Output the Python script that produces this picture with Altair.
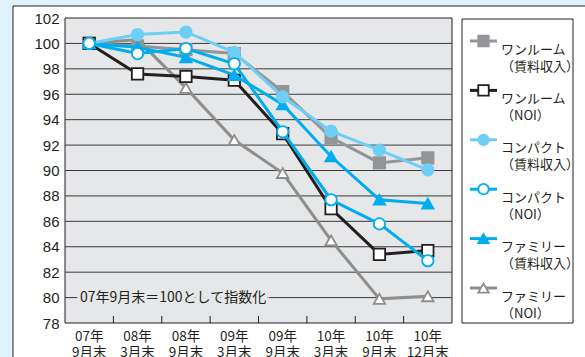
import altair as alt
import pandas as pd

# ---- data ----
categories = ["07年 9月末", "08年 3月末", "08年 9月末", "09年 3月末",
              "09年 9月末", "10年 3月末", "10年 9月末", "10年 12月末"]

series_names = ["ワンルーム|（賃料収入）", "ワンルーム|（NOI）",
                "コンパクト|（賃料収入）", "コンパクト|（NOI）",
                "ファミリー|（賃料収入）", "ファミリー|（NOI）"]

oneroom_rent = [100, 99.8, 99.5, 99.2, 96.2, 92.6, 90.6, 91.0]
oneroom_noi = [100, 97.6, 97.4, 97.1, 92.9, 87.0, 83.4, 83.7]
compact_rent = [100, 100.7, 100.9, 99.3, 95.8, 93.1, 91.6, 90.05]
compact_noi = [100, 99.2, 99.6, 98.4, 93.05, 87.7, 85.8, 82.9]
family_rent = [100, 99.7, 98.9, 97.5, 95.2, 91.1, 87.7, 87.4]
family_noi = [100, 100.3, 96.5, 92.4, 89.8, 84.5, 79.9, 80.1]

y_ticks = [78, 80, 82, 84, 86, 88, 90, 92, 94, 96, 98, 100, 102]
note_text = "07年9月末＝100として指数化"
note_value = 80

series_values = [oneroom_rent, oneroom_noi, compact_rent, compact_noi, family_rent, family_noi]
draw_order = [5, 0, 1, 4, 2, 3]

shapes = ["square", "square", "circle", "circle", "triangle-up", "triangle-up"]
strokes = ["#939598", "#231f20", "#6dcff6", "#00aeef", "#00aeef", "#8e8e8e"]
fills = ["#939598", "#ffffff", "#6dcff6", "#ffffff", "#00aeef", "#ffffff"]

rows = []
for s, vals in zip(series_names, series_values):
    for c, v in zip(categories, vals):
        rows.append({"cat": c, "series": s, "value": v})
df = pd.DataFrame(rows)

W, H = 387, 305
JP = "Noto Sans CJK JP"
DARK = "#231f20"
PLOT_BG = "#e6e7e8"

xs = alt.Scale(type="band", domain=categories, paddingInner=0, paddingOuter=0)
ys = alt.Scale(domain=[78, 102], nice=False, zero=False)
xaxis = alt.Axis(title=None, labelExpr="split(datum.value, ' ')", labelAngle=0,
                 ticks=False, domain=False, grid=False, labelPadding=6,
                 labelFont=JP, labelFontSize=13.5, labelLineHeight=16,
                 labelColor=DARK, zindex=1)
yaxis = alt.Axis(title=None, values=y_ticks, ticks=False, domain=False, grid=False,
                 labelPadding=6, labelFont="Liberation Sans", labelFontSize=15,
                 labelColor=DARK, zindex=1)

stroke_scale = alt.Scale(domain=series_names, range=strokes)
fill_scale = alt.Scale(domain=series_names, range=fills)
shape_scale = alt.Scale(domain=series_names, range=shapes)

one = alt.Data(values=[{}])

frame = alt.Chart(one).mark_rect(fill="white", stroke=DARK, strokeWidth=1).encode(
    x=alt.value(-52), x2=alt.value(W + 300), y=alt.value(-12), y2=alt.value(H + 200))
plot_bg = alt.Chart(one).mark_rect(fill=PLOT_BG, stroke=DARK, strokeWidth=1).encode(
    x=alt.value(0), x2=alt.value(W), y=alt.value(0), y2=alt.value(H))

grid = alt.Chart(pd.DataFrame({"v": y_ticks[1:-1]})).mark_rule(
    color="#3a3a3a", strokeWidth=1).encode(
    y=alt.Y("v:Q", scale=ys, axis=yaxis))

ticks = alt.Chart(pd.DataFrame({"cat": categories[1:]})).mark_rule(
    color=DARK, strokeWidth=1).encode(
    x=alt.X("cat:N", scale=xs, axis=xaxis, bandPosition=0),
    y=alt.value(H - 7), y2=alt.value(H))

note_df = pd.DataFrame({"label": [note_text], "v": [note_value]})
note_halo = alt.Chart(note_df).mark_text(
    align="left", baseline="middle", font=JP, fontSize=14, fill=PLOT_BG,
    stroke=PLOT_BG, strokeWidth=7).encode(
    x=alt.value(15), y=alt.Y("v:Q", scale=ys, axis=yaxis), text="label:N")
note = alt.Chart(note_df).mark_text(
    align="left", baseline="middle", font=JP, fontSize=14, fill=DARK).encode(
    x=alt.value(15), y=alt.Y("v:Q", scale=ys, axis=yaxis), text="label:N")

layers = [frame, plot_bg, grid, ticks, note_halo, note]
base = alt.Chart(df)
for i in draw_order:
    name = series_names[i]
    sub = base.transform_filter(alt.datum.series == name)
    enc = dict(
        x=alt.X("cat:N", scale=xs, axis=xaxis, bandPosition=0.5, sort=categories),
        y=alt.Y("value:Q", scale=ys, axis=yaxis),
        stroke=alt.Stroke("series:N", scale=stroke_scale, legend=None),
    )
    layers.append(sub.mark_line(strokeWidth=3).encode(**enc))
    layers.append(sub.mark_point(size=130, strokeWidth=1.8, opacity=1).encode(
        fill=alt.Fill("series:N", scale=fill_scale, legend=None),
        shape=alt.Shape("series:N", scale=shape_scale, legend=None),
        **enc))

main = alt.layer(*layers)

# ---- legend ----
leg_df = pd.DataFrame({"series": series_names})
ly = alt.Y("series:N", scale=alt.Scale(type="point", domain=series_names,
                                       range=[23, 270], padding=0), axis=None)
leg_box = alt.Chart(one).mark_rect(fill="white", stroke=DARK, strokeWidth=1).encode(
    x=alt.value(397), x2=alt.value(508), y=alt.value(1), y2=alt.value(H))
leg_line = alt.Chart(leg_df).mark_rule(strokeWidth=3).encode(
    x=alt.value(405), x2=alt.value(432), y=ly,
    stroke=alt.Stroke("series:N", scale=stroke_scale, legend=None))
leg_pt = alt.Chart(leg_df).mark_point(size=110, strokeWidth=1.8, opacity=1).encode(
    x=alt.value(418.5), y=ly,
    stroke=alt.Stroke("series:N", scale=stroke_scale, legend=None),
    fill=alt.Fill("series:N", scale=fill_scale, legend=None),
    shape=alt.Shape("series:N", scale=shape_scale, legend=None))
leg_txt = alt.Chart(leg_df).transform_calculate(
    lines="split(datum.series, '|')").mark_text(
    align="left", baseline="middle", dy=8.5, font=JP, fontSize=13,
    lineHeight=17, fill=DARK).encode(
    x=alt.value(436), y=ly, text="lines:N")

legend = alt.layer(leg_box, leg_line, leg_pt, leg_txt)

chart = alt.layer(main, legend).resolve_scale(y="independent").properties(
    width=W, height=H,
    autosize=alt.AutoSizeParams(type="none"),
    padding={"left": 65, "top": 18, "right": 133, "bottom": 34},
    background="#dff1fa",
).configure_view(stroke=None)

chart.save("out.html", embed_options={"renderer": "svg", "actions": False})
